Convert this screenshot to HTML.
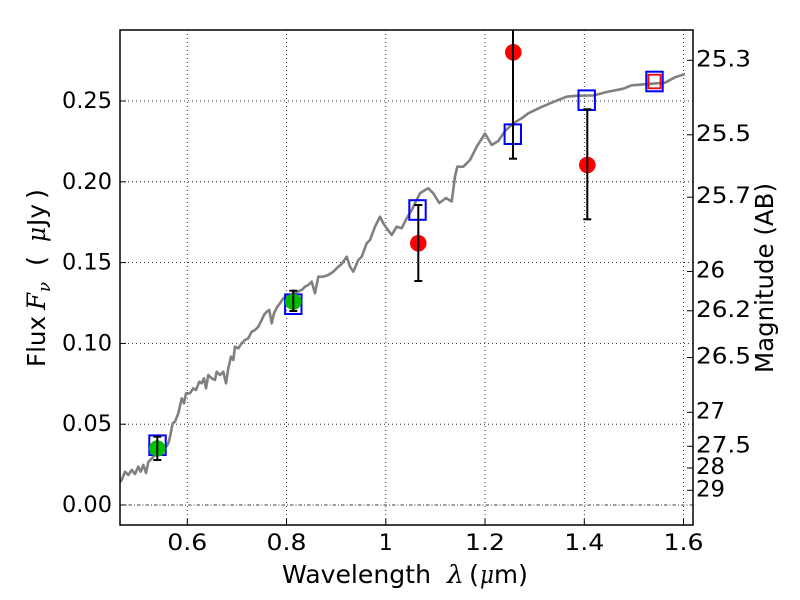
<!DOCTYPE html>
<html>
<head>
<meta charset="utf-8">
<style>
  html, body { margin: 0; padding: 0; background: #fff; }
  svg { display: block; }
  text { font-family: "DejaVu Sans", "Liberation Sans", sans-serif; fill: #000; }
  .m { font-family: "DejaVu Serif", "Liberation Serif", serif; font-style: italic; }
</style>
</head>
<body>
<svg width="800" height="600" viewBox="0 0 800 600" xmlns="http://www.w3.org/2000/svg">
  <defs>
    <clipPath id="ax">
      <rect x="120" y="30" width="573" height="495"/>
    </clipPath>
  </defs>
  <rect x="0" y="0" width="800" height="600" fill="#fff"/>

  <!-- grid -->
  <g stroke="#000" stroke-width="0.8" stroke-dasharray="1,3" fill="none">
    <line x1="187.3" y1="30" x2="187.3" y2="525"/>
    <line x1="286.5" y1="30" x2="286.5" y2="525"/>
    <line x1="385.8" y1="30" x2="385.8" y2="525"/>
    <line x1="485" y1="30" x2="485" y2="525"/>
    <line x1="584.3" y1="30" x2="584.3" y2="525"/>
    <line x1="683.5" y1="30" x2="683.5" y2="525"/>
    <line x1="120" y1="424.2" x2="693" y2="424.2"/>
    <line x1="120" y1="343.4" x2="693" y2="343.4"/>
    <line x1="120" y1="262.6" x2="693" y2="262.6"/>
    <line x1="120" y1="181.8" x2="693" y2="181.8"/>
    <line x1="120" y1="101" x2="693" y2="101"/>
  </g>
  <!-- zero line dash-dot -->
  <line x1="120" y1="505" x2="693" y2="505" stroke="#000" stroke-width="0.8" stroke-dasharray="3.5,2,1,2"/>

  <g clip-path="url(#ax)">
    <!-- spectrum -->
    <polyline fill="none" stroke="#808080" stroke-width="2.6" stroke-linejoin="round" points="
      120,482 121.7,480 125,471.7 128.3,475 131.7,470 135,474 138.3,466.7 140.7,471.7 143.3,465 146,473 148.3,462
      158,452 166.7,446 168.3,443.3 170,436.7 172.7,423.3 175,421.7 178.3,413.3 181.7,398.3 184,403.3 186,393.3
      190,393.3 193.3,388.3 196,390 199.3,381.7 201.7,383.3 204,378.3 206,388.3 208.3,375 211.7,378.3 215,380
      216.7,371.7 220,375 223.3,371.7 226,383.3 228.3,368.3 231,356.7 233.3,360 235,346.7 238.3,348.3 241.7,343.3
      245,340 248.3,338.3 251.7,331.7 255,330 258.3,326.7 261.7,320 264,315 266.7,311.7 269.3,310 271.7,323.3
      274,313.3 277.3,306.7 280,303.3 283.3,298.3 292,294 301.7,290 305,286.7 308.3,285 311.7,281.7 315,293.3
      318.3,276.7 323.3,276.7 328.3,275 333.3,271.7 338.3,266.7 341.7,264 346.7,256.7 350,266.7 353.3,271.7
      358.3,260 361.7,256.7 366.7,243.3 370,240 375,226.7 380,216.7 383.3,223.3 386.7,228.3 391.7,235 396.7,226.7
      401.7,228.3 406.7,218.3 411.7,210 415,203.3 420,193.3 425,190 428.3,188.3 433.3,193.3 439.3,203 446,198
      451.7,201.5 455,176.7 457.3,166.7 463.3,166.7 470,160 476.7,146.7 485,133.5 491.7,145 498.3,141 505,131
      513.3,123.3 521.7,118.3 528.3,113.3 540,107.7 550,103.3 558.3,100 566.7,96.7 576.7,95.7 593.3,95.5
      606.7,92 623.3,88.7 631.7,85.3 665,82.7 675,77.3 685,74"/>

    <!-- blue squares -->
    <g fill="none" stroke="#0000ff" stroke-width="2">
      <rect x="149.3" y="435.4" width="16.4" height="19.6"/>
      <rect x="285.1" y="294.4" width="16.4" height="19.6"/>
      <rect x="409.3" y="200.2" width="16.4" height="19.6"/>
      <rect x="504.6" y="124.4" width="16.4" height="19.6"/>
      <rect x="578.5" y="90.4" width="16.4" height="19.6"/>
      <rect x="646.3" y="71.7" width="16.4" height="19.6"/>
    </g>
    <!-- red square -->
    <rect x="648.5" y="74.7" width="12" height="13.6" fill="none" stroke="#ff0000" stroke-width="1.8"/>

    <!-- green circles -->
    <circle cx="157.3" cy="448.5" r="8.2" fill="#00bf00"/>
    <circle cx="293.3" cy="301.7" r="8.2" fill="#00bf00"/>

    <!-- red circles -->
    <circle cx="418.3" cy="243.3" r="8.3" fill="#ff0000"/>
    <circle cx="513.3" cy="52.3" r="8.3" fill="#ff0000"/>
    <circle cx="587.3" cy="165" r="8.3" fill="#ff0000"/>

    <!-- error bars -->
    <g stroke="#000" stroke-width="2" fill="none">
      <line x1="157.3" y1="436.7" x2="157.3" y2="460"/>
      <line x1="153.3" y1="436.7" x2="161.3" y2="436.7"/>
      <line x1="153.3" y1="460" x2="161.3" y2="460"/>

      <line x1="293.3" y1="290.7" x2="293.3" y2="311"/>
      <line x1="289.3" y1="290.7" x2="297.3" y2="290.7"/>
      <line x1="289.3" y1="311" x2="297.3" y2="311"/>

      <line x1="418.3" y1="205" x2="418.3" y2="281"/>
      <line x1="414.3" y1="205" x2="422.3" y2="205"/>
      <line x1="414.3" y1="281" x2="422.3" y2="281"/>

      <line x1="513" y1="25" x2="513" y2="158.7"/>
      <line x1="509" y1="158.7" x2="517" y2="158.7"/>

      <line x1="587.3" y1="109.3" x2="587.3" y2="219.3"/>
      <line x1="583.3" y1="109.3" x2="591.3" y2="109.3"/>
      <line x1="583.3" y1="219.3" x2="591.3" y2="219.3"/>
    </g>
  </g>

  <!-- ticks -->
  <g stroke="#000" stroke-width="1">
    <line x1="120" y1="505" x2="126" y2="505"/>
    <line x1="120" y1="424.2" x2="126" y2="424.2"/>
    <line x1="120" y1="343.4" x2="126" y2="343.4"/>
    <line x1="120" y1="262.6" x2="126" y2="262.6"/>
    <line x1="120" y1="181.8" x2="126" y2="181.8"/>
    <line x1="120" y1="101" x2="126" y2="101"/>
    <line x1="187.3" y1="525" x2="187.3" y2="519"/>
    <line x1="286.5" y1="525" x2="286.5" y2="519"/>
    <line x1="385.8" y1="525" x2="385.8" y2="519"/>
    <line x1="485" y1="525" x2="485" y2="519"/>
    <line x1="584.3" y1="525" x2="584.3" y2="519"/>
    <line x1="683.5" y1="525" x2="683.5" y2="519"/>
    <line x1="693" y1="60.3" x2="687" y2="60.3"/>
    <line x1="693" y1="134.8" x2="687" y2="134.8"/>
    <line x1="693" y1="197.2" x2="687" y2="197.2"/>
    <line x1="693" y1="271.5" x2="687" y2="271.5"/>
    <line x1="693" y1="310.8" x2="687" y2="310.8"/>
    <line x1="693" y1="357.6" x2="687" y2="357.6"/>
    <line x1="693" y1="412.3" x2="687" y2="412.3"/>
    <line x1="693" y1="446.3" x2="687" y2="446.3"/>
    <line x1="693" y1="468" x2="687" y2="468"/>
    <line x1="693" y1="490.3" x2="687" y2="490.3"/>
  </g>

  <!-- axes frame -->
  <rect x="120" y="30" width="573" height="495" fill="none" stroke="#000" stroke-width="1.5"/>

  <!-- left tick labels -->
  <g font-size="22" text-anchor="end">
    <text x="112" y="512" textLength="50" lengthAdjust="spacingAndGlyphs">0.00</text>
    <text x="112" y="431.2" textLength="50" lengthAdjust="spacingAndGlyphs">0.05</text>
    <text x="112" y="350.4" textLength="50" lengthAdjust="spacingAndGlyphs">0.10</text>
    <text x="112" y="269.6" textLength="50" lengthAdjust="spacingAndGlyphs">0.15</text>
    <text x="112" y="188.8" textLength="50" lengthAdjust="spacingAndGlyphs">0.20</text>
    <text x="112" y="108" textLength="50" lengthAdjust="spacingAndGlyphs">0.25</text>
  </g>

  <!-- bottom tick labels -->
  <g font-size="22" text-anchor="middle">
    <text x="187.3" y="550" textLength="40" lengthAdjust="spacingAndGlyphs">0.6</text>
    <text x="286.5" y="550" textLength="40" lengthAdjust="spacingAndGlyphs">0.8</text>
    <text x="385.8" y="550">1</text>
    <text x="485" y="550" textLength="40" lengthAdjust="spacingAndGlyphs">1.2</text>
    <text x="584.3" y="550" textLength="40" lengthAdjust="spacingAndGlyphs">1.4</text>
    <text x="683.5" y="550" textLength="40" lengthAdjust="spacingAndGlyphs">1.6</text>
  </g>

  <!-- right tick labels -->
  <g font-size="22" text-anchor="start">
    <text x="696" y="66.3" textLength="55" lengthAdjust="spacingAndGlyphs">25.3</text>
    <text x="696" y="140.8" textLength="55" lengthAdjust="spacingAndGlyphs">25.5</text>
    <text x="696" y="203.2" textLength="55" lengthAdjust="spacingAndGlyphs">25.7</text>
    <text x="696" y="277.5" textLength="29" lengthAdjust="spacingAndGlyphs">26</text>
    <text x="696" y="316.8" textLength="55" lengthAdjust="spacingAndGlyphs">26.2</text>
    <text x="696" y="363.6" textLength="55" lengthAdjust="spacingAndGlyphs">26.5</text>
    <text x="696" y="418.3" textLength="29" lengthAdjust="spacingAndGlyphs">27</text>
    <text x="696" y="452.3" textLength="55" lengthAdjust="spacingAndGlyphs">27.5</text>
    <text x="696" y="474" textLength="29" lengthAdjust="spacingAndGlyphs">28</text>
    <text x="696" y="496.3" textLength="29" lengthAdjust="spacingAndGlyphs">29</text>
  </g>

  <!-- x label -->
  <g font-size="25">
    <text x="282" y="583" textLength="149" lengthAdjust="spacingAndGlyphs">Wavelength</text>
    <text x="447" y="583" class="m" textLength="17" lengthAdjust="spacingAndGlyphs">λ</text>
    <text x="469" y="583" textLength="10" lengthAdjust="spacingAndGlyphs">(</text>
    <text x="480" y="583" class="m" textLength="14" lengthAdjust="spacingAndGlyphs">μ</text>
    <text x="494" y="583" textLength="24" lengthAdjust="spacingAndGlyphs">m</text>
    <text x="518" y="583" textLength="10" lengthAdjust="spacingAndGlyphs">)</text>
  </g>

  <!-- left y label (rotated) -->
  <g font-size="25" transform="translate(45,0) rotate(-90)">
    <text x="-367" y="0" textLength="51" lengthAdjust="spacingAndGlyphs">Flux</text>
    <text x="-310" y="0" class="m" textLength="17" lengthAdjust="spacingAndGlyphs">F</text>
    <text x="-292" y="5" class="m" font-size="17" textLength="10" lengthAdjust="spacingAndGlyphs">ν</text>
    <text x="-266" y="0" textLength="10" lengthAdjust="spacingAndGlyphs">(</text>
    <text x="-242" y="0" class="m" textLength="15" lengthAdjust="spacingAndGlyphs">μ</text>
    <text x="-226" y="0" textLength="22" lengthAdjust="spacingAndGlyphs">Jy</text>
    <text x="-199" y="0" textLength="10" lengthAdjust="spacingAndGlyphs">)</text>
  </g>

  <!-- right y label -->
  <g font-size="25" transform="translate(773,0) rotate(-90)">
    <text x="-373" y="0" textLength="190" lengthAdjust="spacingAndGlyphs">Magnitude (AB)</text>
  </g>
</svg>
</body>
</html>
